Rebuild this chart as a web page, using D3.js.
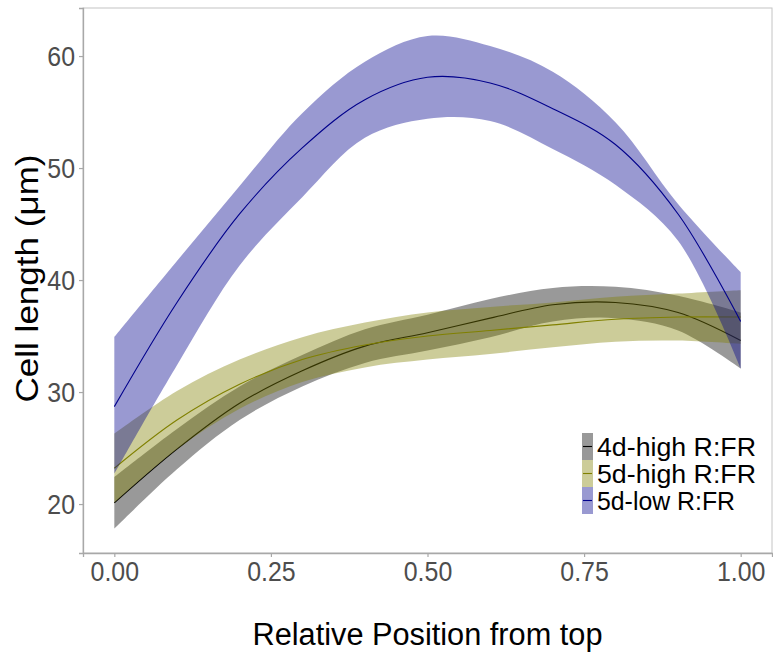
<!DOCTYPE html>
<html>
<head>
<meta charset="utf-8">
<script src="https://cdn.jsdelivr.net/npm/d3@7"></script>
<style>
	body { margin: 0; background: #fff; }
	text { font-family: "Liberation Sans", Arial, sans-serif; }
</style>
</head>
<body>
<div id="chart"></div>
<script>

var positions = [0, 0.1, 0.2, 0.3, 0.4, 0.5, 0.6, 0.7, 0.8, 0.9, 1.0];

var groups = ["4d-high R:FR", "5d-high R:FR", "5d-low R:FR"];
var colours = ["#000000", "#808000", "#00008b"];

// 4d-high R:FR
var mean4dHigh  = [20.1, 24.9, 29.0, 31.9, 34.1, 35.3, 36.6, 37.8, 38.0, 37.1, 34.6];
var lower4dHigh = [17.8, 23.1, 27.5, 30.5, 32.6, 33.7, 34.9, 36.3, 36.6, 35.5, 32.1];
var upper4dHigh = [22.4, 26.7, 30.5, 33.3, 35.6, 36.9, 38.3, 39.3, 39.4, 38.6, 37.1];

// 5d-high R:FR
var mean5dHigh  = [23.2, 27.5, 30.7, 32.9, 34.2, 35.0, 35.5, 36.0, 36.5, 36.7, 36.7];
var lower5dHigh = [20.1, 24.9, 28.5, 30.9, 32.2, 32.9, 33.4, 34.0, 34.5, 34.6, 34.3];
var upper5dHigh = [26.3, 30.1, 32.9, 34.9, 36.2, 37.1, 37.6, 38.0, 38.5, 38.8, 39.1];

// 5d-low R:FR
var mean5dLow  = [28.7, 38.0, 45.9, 51.8, 56.1, 58.1, 57.6, 55.3, 52.1, 45.9, 36.3];
var lower5dLow = [22.7, 32.4, 41.3, 47.4, 52.7, 54.4, 54.2, 51.7, 48.5, 43.5, 32.1];
var upper5dLow = [34.9, 41.7, 48.4, 54.9, 59.5, 61.8, 60.9, 58.6, 54.1, 46.8, 40.7];

var xTicks = [0, 0.25, 0.5, 0.75, 1];
var yTicks = [20, 30, 40, 50, 60];

var series = [
	{mean: mean4dHigh, lower: lower4dHigh, upper: upper4dHigh},
	{mean: mean5dHigh, lower: lower5dHigh, upper: upper5dHigh},
	{mean: mean5dLow, lower: lower5dLow, upper: upper5dLow}
].map(function (s, i) {
	return {
		name: groups[i],
		colour: colours[i],
		values: positions.map(function (p, j) {
			return {x: p, mean: s.mean[j], lo: s.lower[j], hi: s.upper[j]};
		})
	};
});

var margin = {top: 8, right: 1, bottom: 105, left: 83},
	width = 773 - margin.left - margin.right,
	height = 658 - margin.top - margin.bottom;

var svg = d3.select("#chart").append("svg")
	.attr("width", 773)
	.attr("height", 658);

var g = svg.append("g")
	.attr("transform", "translate(" + margin.left + "," + margin.top + ")");

var x = d3.scaleLinear().domain([-0.05, 1.05]).range([0, width]);
var y = d3.scaleLinear().domain([15.63, 64.29]).range([height, 0]);

// panel border
g.append("rect")
	.attr("width", width)
	.attr("height", height)
	.attr("fill", "none")
	.attr("stroke", "#c4c4c4");

var area = d3.area()
	.curve(d3.curveCatmullRom.alpha(0.5))
	.x(function (d) { return x(d.x); })
	.y0(function (d) { return y(d.lo); })
	.y1(function (d) { return y(d.hi); });

var line = d3.line()
	.curve(d3.curveCatmullRom.alpha(0.5))
	.x(function (d) { return x(d.x); })
	.y(function (d) { return y(d.mean); });

// ribbon then line for each group, like geom_smooth
series.forEach(function (s) {
	g.append("path")
		.attr("d", area(s.values))
		.attr("fill", s.colour)
		.attr("fill-opacity", 0.4);
	g.append("path")
		.attr("d", line(s.values))
		.attr("fill", "none")
		.attr("stroke", s.colour)
		.attr("stroke-width", 1.1);
});

// axes
var xAxis = g.append("g")
	.attr("transform", "translate(0," + height + ")")
	.call(d3.axisBottom(x).tickValues(xTicks).tickFormat(d3.format(".2f"))
		.tickSizeOuter(0).tickSize(4).tickPadding(4));

var yAxis = g.append("g")
	.call(d3.axisLeft(y).tickValues(yTicks).tickSizeOuter(0).tickSize(4).tickPadding(4));

[xAxis, yAxis].forEach(function (a) {
	a.select(".domain").attr("stroke", "#a8a8a8").attr("stroke-width", 1.3);
	a.selectAll(".tick line").attr("stroke", "#a8a8a8").attr("stroke-width", 1.2);
	a.selectAll(".tick text")
		.attr("fill", "#4d4d4d")
		.style("font-size", "28px")
		.style("font-family", "'Liberation Sans', Arial, sans-serif");
});

// the reference labels are a little narrow for their height
svg.selectAll(".tick text").each(function () {
	var t = d3.select(this);
	t.attr("lengthAdjust", "spacingAndGlyphs")
		.attr("textLength", this.getComputedTextLength() * 0.89);
});

// axis titles
svg.append("text")
	.attr("x", margin.left + width / 2)
	.attr("y", 645)
	.attr("text-anchor", "middle")
	.attr("lengthAdjust", "spacingAndGlyphs")
	.attr("textLength", 350)
	.style("font-size", "31px")
	.text("Relative Position from top");

svg.append("text")
	.attr("transform", "translate(38," + (margin.top + height / 2 - 2) + ") rotate(-90)")
	.attr("text-anchor", "middle")
	.attr("lengthAdjust", "spacingAndGlyphs")
	.attr("textLength", 248)
	.style("font-size", "31px")
	.text("Cell length (\u03bcm)");

// legend
var legend = svg.append("g")
	.attr("transform", "translate(582,433)");

var item = legend.selectAll("g.item")
	.data(series)
	.enter().append("g")
	.attr("class", "item")
	.attr("transform", function (d, i) { return "translate(0," + (i * 27) + ")"; });

item.append("rect")
	.attr("width", 11)
	.attr("height", 27)
	.attr("fill", function (d) { return d.colour; })
	.attr("fill-opacity", 0.4);

item.append("line")
	.attr("x1", 1).attr("x2", 10)
	.attr("y1", 13.5).attr("y2", 13.5)
	.attr("stroke", function (d) { return d.colour; })
	.attr("stroke-width", 1.1);

item.append("text")
	.attr("x", 15)
	.attr("y", 13.5)
	.attr("dy", "0.36em")
	.attr("lengthAdjust", "spacingAndGlyphs")
	.attr("textLength", function (d, i) { return i == 2 ? 138 : 159; })
	.style("font-size", "26px")
	.text(function (d) { return d.name; });

</script>
</body>
</html>
